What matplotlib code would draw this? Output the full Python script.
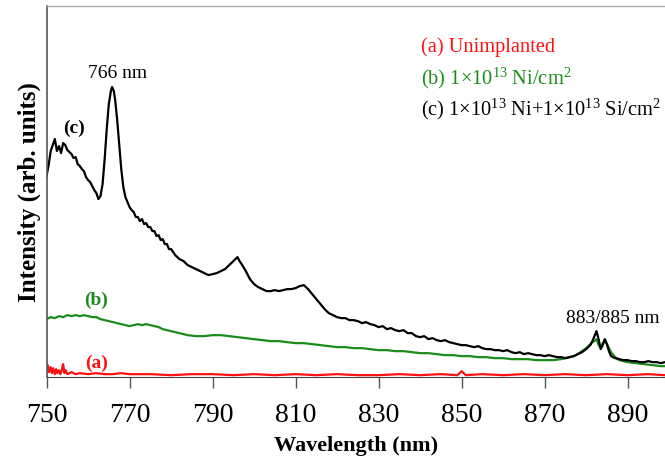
import matplotlib
matplotlib.use('Agg')
import matplotlib.pyplot as plt

plt.rcParams['font.family'] = ['Liberation Serif', 'DejaVu Serif']
plt.rcParams['mathtext.fontset'] = 'custom'
plt.rcParams['mathtext.rm'] = 'Liberation Serif'
plt.rcParams['mathtext.it'] = 'Liberation Serif:italic'
plt.rcParams['mathtext.bf'] = 'Liberation Serif:bold'

# (c) Ni+Si implanted
wl_c = [750, 750.5, 751, 751.5, 752, 752.5, 753, 753.5, 754, 754.5, 755, 755.5, 756, 756.5, 757, 757.5,
        758, 758.5, 759, 759.5, 760, 760.5, 761, 761.5, 762, 762.5, 763, 763.5, 764, 764.5, 765, 765.5,
        765.8, 766.2, 766.5, 767, 767.5, 768, 768.5, 769, 769.5, 770, 770.5, 771, 771.5, 772, 772.5,
        773, 773.5, 774, 774.5, 775, 775.5, 776, 776.5, 777, 777.5, 778, 778.5, 779, 779.5, 780,
        781, 782, 783, 784, 785, 786, 787, 788, 789, 790, 791, 792, 793, 794, 795, 795.5, 796,
        796.5, 797, 798, 799, 800, 801, 802, 803, 804, 805, 806, 807, 808, 809, 810, 811, 812,
        813, 814, 815, 816, 817, 818, 819, 820, 821, 822, 823, 824, 825, 826, 827, 828, 829, 830,
        831, 832, 833, 834, 835, 836, 837, 838, 839, 840, 841, 842, 843, 844, 845, 846, 847, 848,
        849, 850, 851, 852, 853, 854, 855, 856, 857, 858, 859, 860, 861, 862, 863, 864, 865, 866,
        867, 868, 869, 870, 871, 872, 873, 874, 875, 876, 877, 878, 879, 880, 881, 881.5, 882,
        882.5, 883, 883.5, 884, 884.5, 885, 885.5, 886, 887, 888, 889, 890, 891, 892, 893, 894,
        895, 896, 897, 898, 899]
int_c = [201, 212, 226, 232, 238, 226, 231, 224, 234, 232, 227, 225, 223, 219, 220, 213,
         211, 208, 206, 200, 197, 195, 191, 187, 184, 178, 181, 193, 218, 248, 273, 286,
         290, 286, 278, 258, 233, 208, 190, 180, 175, 170, 167, 165, 160, 160, 156,
         158, 153, 154, 150, 150, 146, 146, 141, 142, 137, 138, 133, 133, 128, 128,
         122, 118, 116, 112, 110, 108, 106, 104, 102, 103, 104, 106, 108, 112, 116, 118, 120,
         116, 113, 106, 98, 93, 90, 88, 86, 86, 87, 86, 87, 88, 88, 89, 91, 92,
         88, 83, 78, 73, 68, 64, 62, 60, 59, 59, 57, 57, 56, 54, 55, 53, 52, 50,
         51, 48, 49, 47, 46, 47, 44, 44, 41, 40, 41, 38, 39, 37, 36, 37, 35, 34,
         33, 32, 32, 31, 30, 31, 29, 28, 28, 27, 27, 26, 27, 25, 24, 25, 23, 24,
         23, 22, 22, 21, 22, 21, 20, 20, 19, 20, 21, 23, 25, 28, 32, 36, 41,
         46, 38, 28, 32, 38, 33, 26, 21, 19, 18, 17, 17, 16, 16, 15, 15,
         16, 15, 15, 14, 15]

# (b) Ni implanted
wl_b = [750, 751, 752, 753, 754, 755, 756, 757, 758, 759, 760, 761, 762, 763, 764, 765, 766, 767,
        768, 769, 770, 771, 772, 773, 774, 775, 776, 777, 778, 779, 780, 782, 784, 786, 788, 790,
        792, 794, 796, 798, 800, 802, 804, 806, 808, 810, 812, 814, 816, 818, 820, 822, 824, 826,
        828, 830, 832, 834, 836, 838, 840, 842, 844, 846, 848, 850, 852, 854, 856, 858, 860, 862,
        864, 866, 868, 870, 872, 874, 876, 877, 878, 879, 880, 881, 881.5, 882, 882.5, 883, 883.5,
        884, 884.5, 885, 885.5, 886, 887, 888, 889, 890, 892, 894, 896, 898, 899]
int_b = [58, 60, 59, 61, 60, 62, 61, 62, 61, 62, 61, 60, 60, 58, 57, 56, 55, 54,
         53, 52, 51, 52, 53, 52, 53, 52, 51, 50, 48, 47, 46, 44, 42, 41, 41, 42,
         42, 41, 40, 39, 38, 37, 36, 36, 35, 34, 34, 33, 32, 31, 30, 30, 29, 29,
         28, 27, 27, 26, 26, 25, 24, 24, 23, 22, 22, 21, 21, 20, 20, 19, 19, 18,
         18, 18, 17, 17, 17, 18, 20, 21, 23, 26, 29, 33, 35, 36, 38, 32, 30,
         34, 37, 33, 29, 25, 20, 17, 16, 15, 14, 13, 12, 11, 11]

# (a) unimplanted
wl_a = [750, 750.3, 750.6, 751, 751.3, 751.6, 752, 752.3, 752.6, 753, 753.3, 753.6, 754, 754.3,
        754.6, 755, 756, 757, 758, 760, 762, 764, 766, 768, 770, 775, 780, 785, 790, 795, 800,
        805, 810, 815, 820, 825, 830, 835, 840, 845, 849, 850, 851, 855, 860, 865, 870, 875, 880,
        885, 890, 895, 899]
int_a = [6, 12, 5, 10, 4, 9, 3, 8, 4, 7, 3, 6, 13, 4,
         7, 3, 5, 3, 4, 3, 4, 3, 3, 4, 3, 3, 2, 3, 3, 2, 3,
         2, 3, 2, 3, 2, 2, 3, 2, 3, 2, 6, 2, 3, 2, 3, 2, 3, 2,
         3, 2, 3, 2]

xticks = [750, 770, 790, 810, 830, 850, 870, 890]

red = '#ff1010'
green = '#1b8c1b'

fig = plt.figure(figsize=(6.65, 4.64), dpi=100)
ax = fig.add_axes([0.070, 0.185, 0.930, 0.800])

ax.plot(wl_a, int_a, color=red, lw=1.6)
ax.plot(wl_b, int_b, color=green, lw=1.6)
ax.plot(wl_c, int_c, color='black', lw=1.6)

ax.set_xlim(750, 899)
ax.set_ylim(0, 371)
ax.set_xticks(xticks)
ax.set_yticks([])
ax.tick_params(axis='x', direction='out', length=8, width=1, color='#555555',
               labelsize=20, pad=10)
ax.spines['right'].set_visible(False)
ax.spines['top'].set_color('#aaaaaa')
ax.spines['top'].set_linewidth(1.0)
ax.spines['left'].set_color('#555555')
ax.spines['left'].set_linewidth(1.2)
ax.spines['bottom'].set_color('#444444')

ax.set_xlabel('Wavelength (nm)', fontsize=16, fontweight='bold', labelpad=6)
ax.set_ylabel('Intensity (arb. units)', fontsize=18, fontweight='bold', labelpad=4)

ax.text(767.2, 296, '766 nm', fontsize=14, ha='center', va='bottom')
ax.text(756.5, 250, '(c)', fontsize=14, fontweight='bold', ha='center', va='center')
ax.text(762, 78, '(b)', fontsize=14, fontweight='bold', color=green, ha='center', va='center')
ax.text(762, 15, '(a)', fontsize=14, fontweight='bold', color=red, ha='center', va='center')
ax.text(886.5, 60, '883/885 nm', fontsize=14, ha='center', va='center')

ax.text(840.1, 331, '(a) Unimplanted', fontsize=14.7, color=red, ha='left', va='center')
ax.text(840.1, 300, r'(b) 1$\times$10$^{13}$ Ni/cm$^{2}$', fontsize=14.7, color=green,
        ha='left', va='center')
ax.text(840.1, 269, r'(c) 1$\times$10$^{13}$ Ni+1$\times$10$^{13}$ Si/cm$^{2}$', fontsize=14.7,
        color='black', ha='left', va='center')

fig.savefig('out.png', dpi=100)
